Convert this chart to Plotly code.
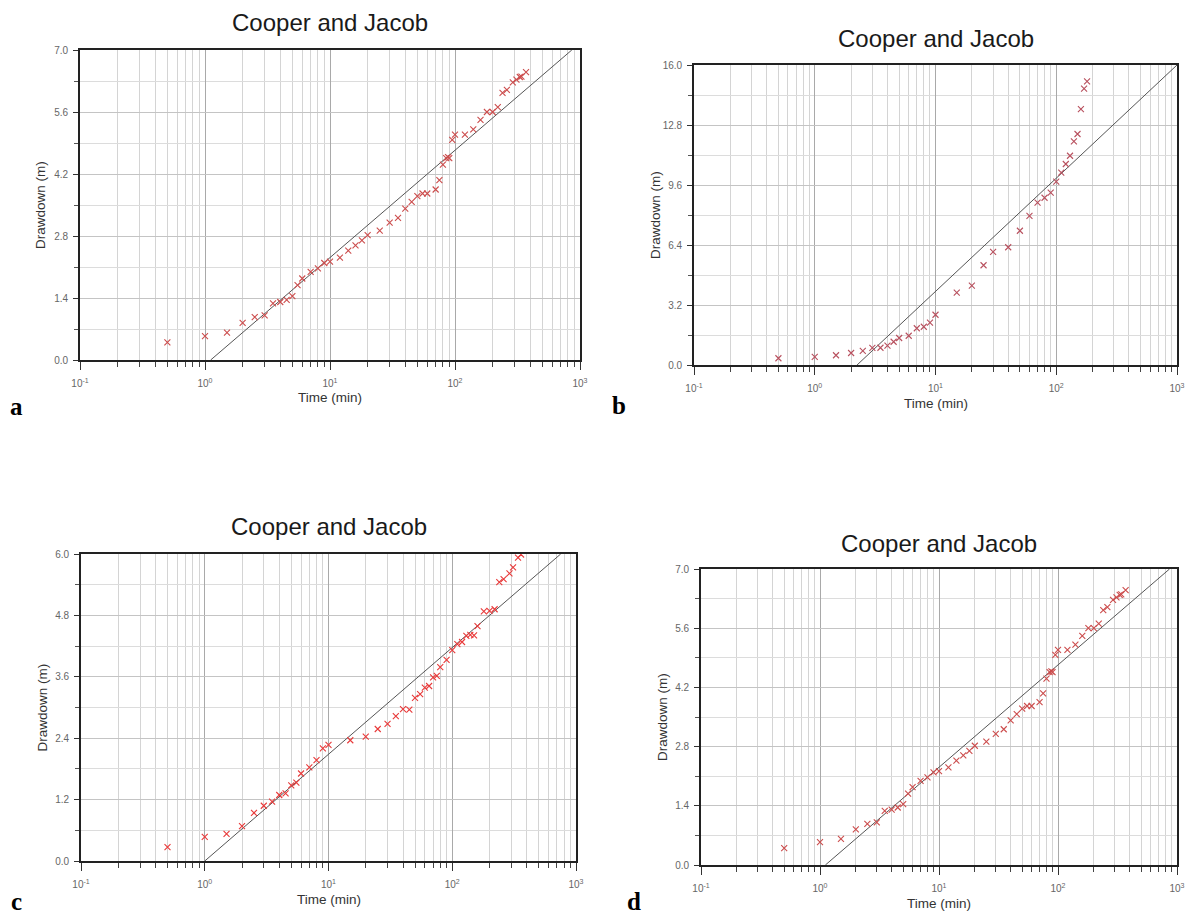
import plotly.graph_objects as go

W, H = 1187, 916

# ---------------- data ----------------
a_time = [0.5, 1, 1.5, 2, 2.5, 3, 3.5, 4, 4.5, 5, 5.5, 6, 7, 8, 9, 10, 12, 14, 16, 18,
          20, 25, 30, 35, 40, 45, 50, 55, 60, 70, 75, 80, 85, 88, 90, 95, 100, 120, 140, 160,
          180, 200, 220, 240, 260, 290, 310, 330, 340, 370]
a_draw = [0.40, 0.54, 0.62, 0.84, 0.97, 1.01, 1.28, 1.31, 1.36, 1.44, 1.69, 1.84, 1.99, 2.07, 2.19, 2.22, 2.31, 2.47, 2.59, 2.70,
          2.82, 2.92, 3.10, 3.21, 3.42, 3.57, 3.70, 3.76, 3.76, 3.85, 4.06, 4.41, 4.56, 4.58, 4.56, 4.97, 5.09, 5.09, 5.21, 5.42,
          5.60, 5.60, 5.71, 6.03, 6.10, 6.27, 6.33, 6.39, 6.40, 6.50]
a_fit_time = [1.11, 860]
a_fit_draw = [0.0, 7.0]

b_time = [0.5, 1, 1.5, 2, 2.5, 3, 3.5, 4, 4.5, 5, 6, 7, 8, 9, 10, 15, 20, 25, 30, 40,
          50, 60, 70, 80, 90, 100, 110, 120, 130, 140, 150, 160, 170, 180]
b_draw = [0.36, 0.43, 0.52, 0.64, 0.75, 0.91, 0.92, 1.03, 1.24, 1.44, 1.56, 1.96, 2.04, 2.26, 2.68, 3.86, 4.23, 5.32, 6.03, 6.28,
          7.16, 7.95, 8.66, 8.92, 9.19, 9.78, 10.26, 10.72, 11.16, 11.93, 12.32, 13.65, 14.74, 15.13]
b_fit_time = [2.24, 1000]
b_fit_draw = [0.0, 16.0]

c_time = [0.5, 1, 1.5, 2, 2.5, 3, 3.5, 4, 4.5, 5, 5.5, 6, 7, 8, 9, 10, 15, 20, 25, 30,
          35, 40, 45, 50, 55, 60, 65, 70, 75, 80, 90, 100, 110, 120, 130, 140, 150, 160, 180, 200,
          220, 240, 260, 290, 310, 340, 360]
c_draw = [0.27, 0.47, 0.53, 0.68, 0.94, 1.08, 1.16, 1.29, 1.32, 1.48, 1.53, 1.71, 1.83, 1.97, 2.20, 2.27, 2.36, 2.43, 2.58, 2.68,
          2.83, 2.97, 2.96, 3.19, 3.26, 3.39, 3.42, 3.59, 3.62, 3.79, 3.93, 4.12, 4.24, 4.28, 4.40, 4.42, 4.41, 4.59, 4.88, 4.89,
          4.92, 5.45, 5.51, 5.62, 5.74, 5.93, 5.99]
c_fit_time = [1.0, 752]
c_fit_draw = [0.0, 6.0]

d_time = list(a_time)
d_draw = list(a_draw)
d_fit_time = [1.11, 865]
d_fit_draw = [0.0, 7.0]

x_major = [0.1, 1, 10, 100, 1000]
x_major_text = ["10<sup>-1</sup>", "10<sup>0</sup>", "10<sup>1</sup>", "10<sup>2</sup>", "10<sup>3</sup>"]
x_minor = [m * d for d in [0.1, 1, 10, 100] for m in range(2, 10)]

panel_title = "Cooper and Jacob"
x_title = "Time (min)"
y_title = "Drawdown (m)"

# ---------------- layout geometry (pixels) ----------------
panels = [
    dict(key="a", t=a_time, s=a_draw, ft=a_fit_time, fs=a_fit_draw, ymax=7.0, dy=1.4,
         box=(80, 580, 50, 360), title_y=22, letter=(16, 407), color="#cc4d4d"),
    dict(key="b", t=b_time, s=b_draw, ft=b_fit_time, fs=b_fit_draw, ymax=16.0, dy=3.2,
         box=(694, 1177, 65, 365), title_y=38, letter=(619, 405), color="#b8505e"),
    dict(key="c", t=c_time, s=c_draw, ft=c_fit_time, fs=c_fit_draw, ymax=6.0, dy=1.2,
         box=(81, 576, 554, 861), title_y=526, letter=(16, 901), color="#e83a3a"),
    dict(key="d", t=d_time, s=d_draw, ft=d_fit_time, fs=d_fit_draw, ymax=7.0, dy=1.4,
         box=(701, 1177, 569, 865), title_y=543, letter=(634, 901), color="#cc4d4d"),
]

fig = go.Figure()
annotations = []
layout_axes = {}

FONT = "Liberation Sans, Arial, sans-serif"

for i, p in enumerate(panels):
    n = "" if i == 0 else str(i + 1)
    xa, ya = "x" + n, "y" + n
    x0, x1, y0, y1 = p["box"]

    fig.add_trace(go.Scatter(x=p["ft"], y=p["fs"], mode="lines", xaxis=xa, yaxis=ya,
                             line=dict(color="#555555", width=1), showlegend=False,
                             hoverinfo="skip"))
    fig.add_trace(go.Scatter(x=p["t"], y=p["s"], mode="markers", xaxis=xa, yaxis=ya,
                             marker=dict(symbol="x-thin", size=6,
                                         line=dict(color=p["color"], width=1.1)),
                             showlegend=False))

    layout_axes["xaxis" + n] = dict(
        type="log", range=[-1, 3], domain=[x0 / W, x1 / W], anchor=ya,
        tickmode="array", tickvals=x_major, ticktext=x_major_text,
        ticks="outside", ticklen=8, tickwidth=1.2, tickcolor="#333333",
        showgrid=True, gridcolor="#a9a9a9", gridwidth=1,
        minor=dict(tickmode="array", tickvals=x_minor, ticks="outside", ticklen=5,
                   tickwidth=1, tickcolor="#444444",
                   showgrid=True, gridcolor="#d4d4d4", gridwidth=1),
        showline=True, linecolor="#222222", linewidth=1.6, mirror=True,
        tickfont=dict(family=FONT, size=10, color="#666666"),
        ticklabelstandoff=5, automargin=False, zeroline=False, fixedrange=True)
    layout_axes["yaxis" + n] = dict(
        range=[0, p["ymax"]], domain=[1 - y1 / H, 1 - y0 / H], anchor=xa,
        tickmode="linear", tick0=0, dtick=p["dy"], tickformat=".1f",
        ticks="outside", ticklen=5, tickwidth=1.2, tickcolor="#333333",
        showgrid=True, gridcolor="#c4c4c4", gridwidth=1,
        minor=dict(tickmode="linear", tick0=0, dtick=p["dy"] / 2, ticks="outside",
                   ticklen=4, tickwidth=1, tickcolor="#555555",
                   showgrid=True, gridcolor="#dcdcdc", gridwidth=1),
        showline=True, linecolor="#222222", linewidth=1.6, mirror=True,
        tickfont=dict(family=FONT, size=10, color="#666666"),
        ticklabelstandoff=3, automargin=False, zeroline=False, fixedrange=True)

    cx = (x0 + x1) / 2
    annotations.append(dict(text=panel_title, x=cx / W, y=1 - p["title_y"] / H,
                            xref="paper", yref="paper", showarrow=False,
                            xanchor="center", yanchor="middle",
                            font=dict(family=FONT, size=24, color="#1a1a1a")))
    annotations.append(dict(text=x_title, x=cx / W, y=1 - (y1 + 38) / H,
                            xref="paper", yref="paper", showarrow=False,
                            xanchor="center", yanchor="middle",
                            font=dict(family=FONT, size=13.5, color="#333333")))
    annotations.append(dict(text=y_title, x=(x0 - 39) / W, y=1 - ((y0 + y1) / 2) / H,
                            xref="paper", yref="paper", showarrow=False, textangle=-90,
                            xanchor="center", yanchor="middle",
                            font=dict(family=FONT, size=13.5, color="#333333")))
    lx, ly = p["letter"]
    annotations.append(dict(text="<b>" + p["key"] + "</b>", x=lx / W, y=1 - ly / H,
                            xref="paper", yref="paper", showarrow=False,
                            xanchor="center", yanchor="middle",
                            font=dict(family="Liberation Serif, Times New Roman, serif",
                                      size=25, color="#000000")))

fig.update_layout(width=W, height=H, margin=dict(l=0, r=0, t=0, b=0),
                  paper_bgcolor="white", plot_bgcolor="white",
                  annotations=annotations, showlegend=False, **layout_axes)

fig.write_html("out.html", config={"displayModeBar": False})
